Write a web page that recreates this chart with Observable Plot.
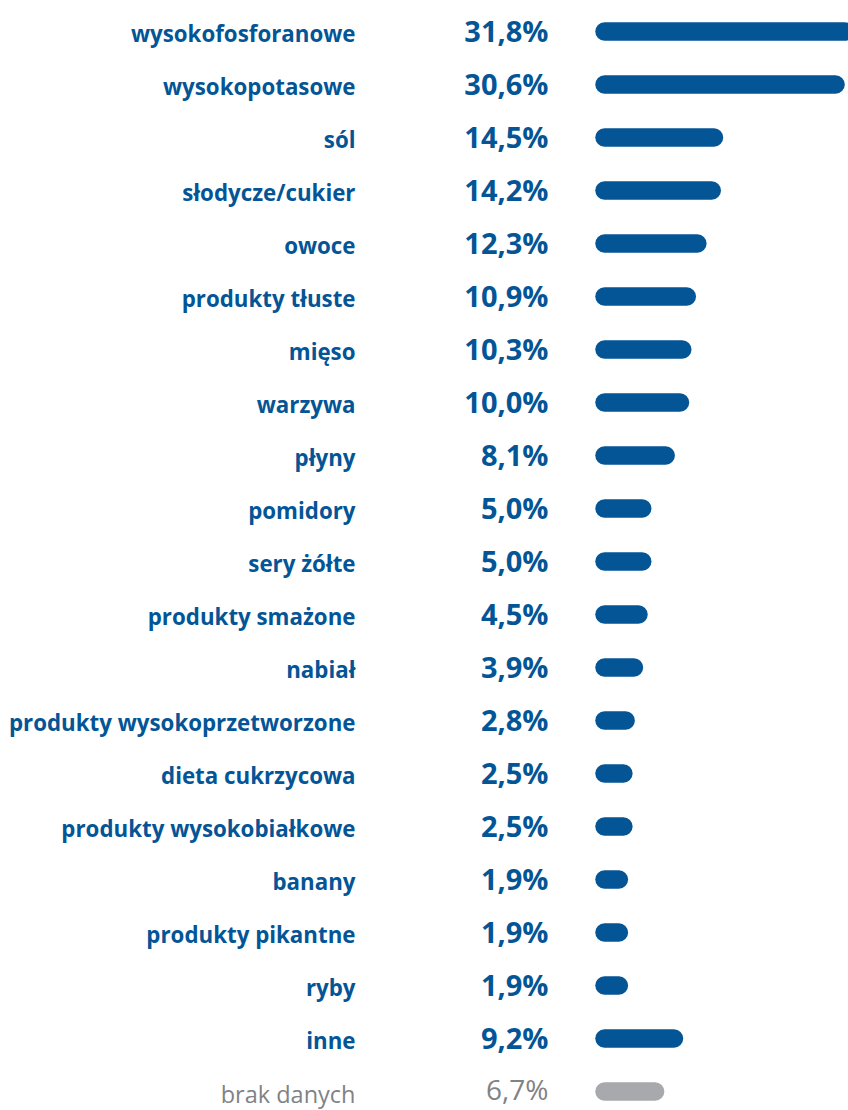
<!DOCTYPE html>
<html>
<head>
<meta charset="utf-8">
<script src="https://cdn.jsdelivr.net/npm/d3@7"></script>
<script src="https://cdn.jsdelivr.net/npm/@observablehq/plot@0.6"></script>
<style>
  html, body { margin: 0; padding: 0; background: #fff; }
  #chart svg { display: block; }
</style>
</head>
<body>
<div id="chart"></div>
<script>
const categories = [
  "wysokofosforanowe", "wysokopotasowe", "sól", "słodycze/cukier", "owoce",
  "produkty tłuste", "mięso", "warzywa", "płyny", "pomidory", "sery żółte",
  "produkty smażone", "nabiał", "produkty wysokoprzetworzone", "dieta cukrzycowa",
  "produkty wysokobiałkowe", "banany", "produkty pikantne", "ryby", "inne", "brak danych"
];
const values = [31.8, 30.6, 14.5, 14.2, 12.3, 10.9, 10.3, 10.0, 8.1, 5.0, 5.0, 4.5, 3.9, 2.8, 2.5, 2.5, 1.9, 1.9, 1.9, 9.2, 6.7];
const valueLabels = ["31,8%", "30,6%", "14,5%", "14,2%", "12,3%", "10,9%", "10,3%", "10,0%", "8,1%", "5,0%", "5,0%", "4,5%", "3,9%", "2,8%", "2,5%", "2,5%", "1,9%", "1,9%", "1,9%", "9,2%", "6,7%"];
const missing = ["brak danych"];

const data = categories.map((c, i) => ({ name: c, value: values[i], label: valueLabels[i], missing: missing.includes(c) }));
const main = data.filter(d => !d.missing);
const rest = data.filter(d => d.missing);

const BLUE = "#045596";
const GREY_BAR = "#a7a9ac";
const GREY_TEXT = "#808285";

const chart = Plot.plot({
  width: 848,
  height: 1110,
  margin: 0,
  x: { domain: [0, 32], range: [604.5, 846.1], axis: null },
  y: { type: "point", domain: categories, range: [27, 1094], padding: 0, axis: null },
  marks: [
    Plot.ruleY(main, { y: "name", x1: 0, x2: "value", stroke: BLUE, strokeWidth: 18.5, strokeLinecap: "round" }),
    Plot.ruleY(rest, { y: "name", x1: 0, x2: "value", stroke: GREY_BAR, strokeWidth: 18.5, strokeLinecap: "round" }),
    Plot.text(main, { y: "name", text: "name", frameAnchor: "left", dx: 355, textAnchor: "end", dy: 3, fill: BLUE, fontSize: 22.3, fontWeight: 700, fontFamily: "Open Sans" }),
    Plot.text(rest, { y: "name", text: "name", frameAnchor: "left", dx: 355, textAnchor: "end", dy: 4, fill: GREY_TEXT, fontSize: 23.5, fontWeight: 400, fontFamily: "Open Sans" }),
    Plot.text(main, { y: "name", text: "label", frameAnchor: "left", dx: 548, textAnchor: "end", dy: 1, fill: BLUE, fontSize: 29, fontWeight: 700, fontFamily: "Open Sans" }),
    Plot.text(rest, { y: "name", text: "label", frameAnchor: "left", dx: 548, textAnchor: "end", dy: 0, fill: GREY_TEXT, fontSize: 28, fontWeight: 400, fontFamily: "Open Sans" })
  ]
});
document.getElementById("chart").appendChild(chart);
</script>
</body>
</html>
